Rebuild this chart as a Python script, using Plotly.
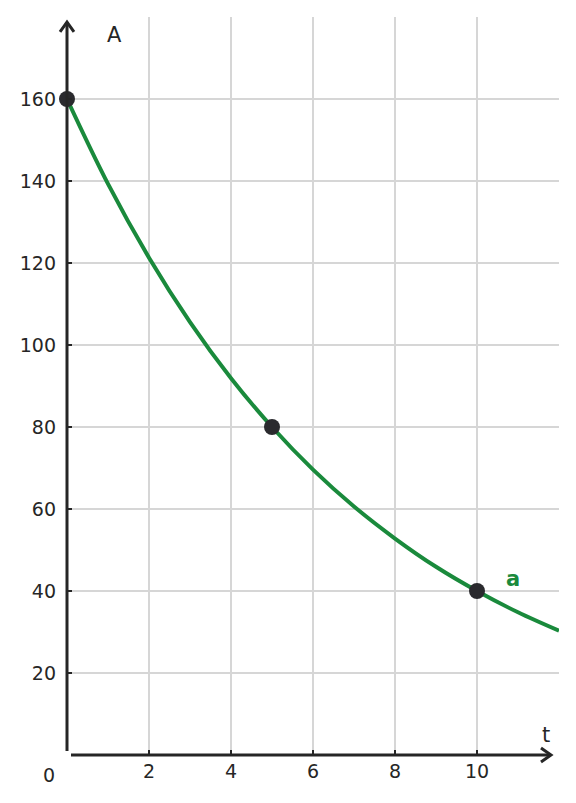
import plotly.graph_objects as go

# readings of the decay curve A(t), one per unit of t
t_vals = [0, 1, 2, 3, 4, 5, 6, 7, 8, 9, 10, 11, 12]
a_vals = [160, 139.3, 121.3, 105.6, 91.9, 80, 69.6, 60.6, 52.8, 45.9, 40, 34.8, 30.3]

# marked points
pt_t = [0, 5, 10]
pt_a = [160, 80, 40]

x_ticks = [2, 4, 6, 8, 10]
y_ticks = [20, 40, 60, 80, 100, 120, 140, 160]

green = "#1a8a3c"
dark = "#262626"
font = "DejaVu Sans"

fig = go.Figure()

fig.add_trace(go.Scatter(
    x=t_vals, y=a_vals, mode="lines",
    line=dict(color=green, width=4, shape="spline"),
    hoverinfo="skip"))

fig.add_trace(go.Scatter(
    x=pt_t, y=pt_a, mode="markers",
    marker=dict(color="#2a2a2e", size=16),
    cliponaxis=False, hoverinfo="skip"))

# axes drawn by hand in paper units (plot area is 492 x 738 px)
pw, ph = 492.0, 738.0
x_tip, y_tip = 484 / pw, 733 / ph
ax_line = dict(color=dark, width=3)
fig.add_shape(type="line", xref="paper", yref="paper",
              x0=4 / pw, y0=0, x1=x_tip, y1=0, line=ax_line)
fig.add_shape(type="line", xref="paper", yref="paper",
              x0=0, y0=4 / ph, x1=0, y1=y_tip, line=ax_line)
fig.add_shape(type="path", xref="paper", yref="paper",
              path=(f"M {x_tip - 10 / pw:.4f} {7 / ph:.4f} L {x_tip:.4f} 0 "
                    f"L {x_tip - 10 / pw:.4f} {-7 / ph:.4f}"),
              line=ax_line)
fig.add_shape(type="path", xref="paper", yref="paper",
              path=(f"M {-7 / pw:.4f} {y_tip - 10 / ph:.4f} L 0 {y_tip:.4f} "
                    f"L {7 / pw:.4f} {y_tip - 10 / ph:.4f}"),
              line=ax_line)

fig.add_annotation(x=1.17, y=175.6, text="A", showarrow=False,
                   font=dict(family=font, size=21, color=dark))
fig.add_annotation(x=11.68, y=4.9, text="t", showarrow=False,
                   font=dict(family=font, size=21, color=dark))
fig.add_annotation(x=10.87, y=42.9, text="<b>a</b>", showarrow=False,
                   font=dict(family=font, size=21, color=green))
fig.add_annotation(x=0, y=0, text="0", showarrow=False, xanchor="right",
                   yanchor="top", xshift=-10, yshift=-7,
                   font=dict(family=font, size=19, color=dark))

fig.update_xaxes(range=[0, 12], tickvals=x_ticks, showgrid=True,
                 gridcolor="#d6d6d6", gridwidth=1.5, zeroline=False,
                 showline=False, ticks="inside", ticklen=5, tickwidth=2,
                 tickcolor=dark, ticklabelstandoff=3,
                 tickfont=dict(family=font, size=19, color=dark))
fig.update_yaxes(range=[0, 180], tickvals=y_ticks, showgrid=True,
                 gridcolor="#d6d6d6", gridwidth=1.5, zeroline=False,
                 showline=False, ticks="inside", ticklen=5, tickwidth=2,
                 tickcolor=dark, ticklabelstandoff=10,
                 tickfont=dict(family=font, size=19, color=dark))

# the page adds an 8px body margin, so the margins are trimmed to suit
fig.update_layout(width=576, height=803, showlegend=False,
                  plot_bgcolor="white", paper_bgcolor="white",
                  margin=dict(l=59, r=25, t=9, b=56))

fig.write_html("out.html")
